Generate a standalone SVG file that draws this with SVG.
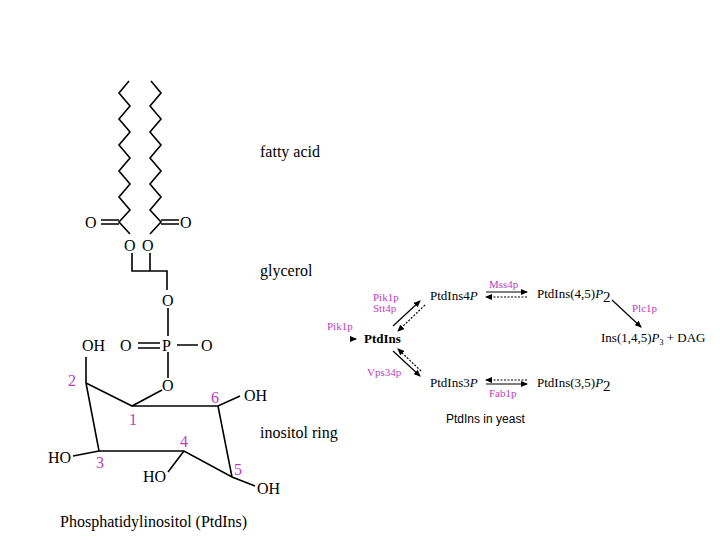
<svg xmlns="http://www.w3.org/2000/svg" width="720" height="540" viewBox="0 0 720 540">
<style>
.b{stroke:#000;stroke-width:1.6;fill:none}
.t{font-family:"Liberation Serif",serif;font-size:16px;fill:#000}
.m{font-family:"Liberation Serif",serif;fill:#c03cc0}
.r{font-family:"Liberation Serif",serif;font-size:13px;fill:#000}
.a{stroke:#000;stroke-width:1.2;fill:none}
.d{stroke:#000;stroke-width:1.2;fill:none;stroke-dasharray:2,1.5}
</style>
<defs><marker id="h" markerWidth="7" markerHeight="6" refX="6" refY="3" orient="auto" markerUnits="userSpaceOnUse"><path d="M0,0L7,3L0,6z" fill="#000"/></marker></defs>
<rect width="720" height="540" fill="#fff"/>
<g id="molecule">
<path class="b" d="M129,81L119,93L130,106L119,119L130,132L119,145L130,158L119,171L130,184L119,197L130,210L119,222L130,234"/>
<path class="b" d="M151,81L161,93L150,106L161,119L150,132L161,145L150,158L161,171L150,184L161,197L150,210L161,222L150,234"/>
<path class="b" d="M101,220H119M101,224H119M161,220H179M161,224H179"/>
<text class="t" x="85" y="228">O</text><text class="t" x="180" y="228">O</text>
<text class="t" x="124" y="251">O</text><text class="t" x="142" y="251">O</text>
<path class="b" d="M132,253V271H167V290M150,253V271"/>
<text class="t" x="162" y="306">O</text>
<path class="b" d="M168,308V336M168,352V378M138,343H160M138,348H160M177,345H198"/>
<text class="t" x="162" y="351">P</text><text class="t" x="120" y="351">O</text><text class="t" x="201" y="351">O</text>
<text class="t" x="82" y="351">OH</text>
<text class="t" x="162" y="391">O</text>
<path class="b" d="M86,357V383L132,406L162,390M132,406H218L240,396M218,406L232,477L184,451L99,451L86,383M99,451L73,456M184,451L168,472M232,477L255,486"/>
<text class="t" x="244" y="401">OH</text><text class="t" x="48" y="463">HO</text><text class="t" x="143" y="482">HO</text><text class="t" x="257" y="494">OH</text>
<g class="m" font-size="16"><text x="68" y="386">2</text><text x="129" y="425">1</text><text x="211" y="403">6</text><text x="180" y="447">4</text><text x="96" y="468">3</text><text x="234" y="475">5</text></g>
<text class="t" x="260" y="157">fatty acid</text>
<text class="t" x="260" y="276">glycerol</text>
<text class="t" x="260" y="438">inositol ring</text>
<text class="t" x="60" y="527">Phosphatidylinositol (PtdIns)</text>
</g>
<g id="ptdins"><text class="r" x="364" y="343" font-weight="bold">PtdIns</text></g>
<g id="p4"><text class="r" x="430" y="300">PtdIns4<tspan font-style="italic">P</tspan></text></g>
<g id="p45"><text class="r" x="537" y="298">PtdIns(4,5)<tspan font-style="italic">P</tspan><tspan font-size="15" dy="4">2</tspan></text></g>
<g id="ins"><text class="r" x="601" y="342" font-size="12">Ins(1,4,5)<tspan font-style="italic">P</tspan><tspan font-size="8" dy="3">3</tspan><tspan dy="-3"> + DAG</tspan></text></g>
<g id="p3"><text class="r" x="430" y="387">PtdIns3<tspan font-style="italic">P</tspan></text></g>
<g id="p35"><text class="r" x="537" y="387">PtdIns(3,5)<tspan font-style="italic">P</tspan><tspan font-size="15" dy="4">2</tspan></text></g>
<g id="connectors">
<path class="a" d="M352,339h4" marker-end="url(#h)"/>
<path class="a" d="M393,326L420,301" marker-end="url(#h)"/>
<path class="d" d="M425,305L398,331" marker-end="url(#h)"/>
<path class="a" d="M393,351L420,376" marker-end="url(#h)"/>
<path class="d" d="M421,371L398,349" marker-end="url(#h)"/>
<path class="a" d="M486,292H527" marker-end="url(#h)"/>
<path class="d" d="M527,297H486" marker-end="url(#h)"/>
<path class="d" d="M527,380H486" marker-end="url(#h)"/>
<path class="a" d="M486,384H527" marker-end="url(#h)"/>
<path class="a" d="M612,300L641,327" marker-end="url(#h)"/>
</g>
<g class="m" font-size="11">
<text x="327" y="330">Pik1p</text>
<text x="373" y="301">Pik1p</text><text x="373" y="312">Stt4p</text>
<text x="489" y="288">Mss4p</text>
<text x="632" y="312">Plc1p</text>
<text x="367" y="376">Vps34p</text>
<text x="489" y="397">Fab1p</text>
</g>
<text x="446" y="423" font-family="Liberation Sans,sans-serif" font-size="12">PtdIns in yeast</text>
</svg>
